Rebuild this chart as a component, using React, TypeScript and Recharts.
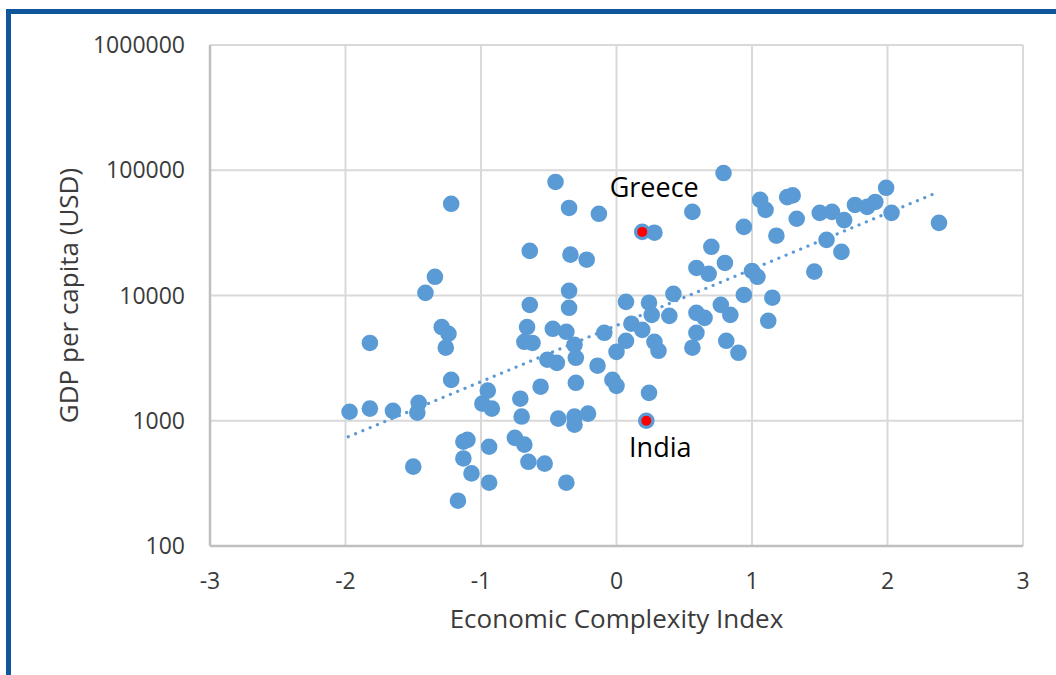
import React from "react"
import { ScatterChart, Scatter, XAxis, YAxis, CartesianGrid } from "recharts"

// Economic Complexity Index per country
const eci = [
    -1.97, -1.82, -1.65, -1.46, -1.47, -1.82, -1.22, -1.34, -1.41, -1.29,
    -1.24, -1.26, -1.22, -1.5, -1.17, -1.13, -1.1, -1.13, -1.07, -0.95,
    -0.99, -0.92, -0.94, -0.94, -0.71, -0.7, -0.75, -0.68, -0.65, -0.53,
    -0.37, -0.43, -0.31, -0.31, -0.21, -0.3, -0.56, -0.51, -0.44, -0.3,
    -0.31, -0.37, -0.47, -0.66, -0.68, -0.62, -0.64, -0.35, -0.35, -0.64,
    -0.34, -0.22, -0.45, -0.35, -0.13, -0.14, -0.09, -0.03, 0.0, 0.0,
    0.07, 0.07, 0.11, 0.19, 0.24, 0.26, 0.28, 0.31, 0.24, 0.22,
    0.19, 0.28, 0.39, 0.42, 0.56, 0.79, 0.59, 0.65, 0.59, 0.56,
    0.77, 0.84, 0.81, 0.9, 0.7, 0.8, 0.59, 0.68, 1.0, 1.04,
    0.94, 1.15, 1.12, 0.94, 1.06, 1.1, 1.18, 1.26, 1.3, 1.33,
    1.46, 1.5, 1.59, 1.55, 1.66, 1.68, 1.76, 1.85, 1.91, 1.99,
    2.03, 2.38,
]

// GDP per capita (USD), same order
const gdp = [
    1180, 1250, 1200, 1390, 1160, 4180, 54000, 14100, 10500, 5600,
    4950, 3830, 2120, 430, 230, 680, 705, 500, 380, 1740,
    1370, 1250, 620, 320, 1500, 1080, 730, 645, 470, 455,
    320, 1040, 1080, 930, 1140, 2010, 1870, 3070, 2900, 3180,
    4040, 5130, 5420, 5600, 4270, 4180, 8400, 10900, 7980, 22700,
    21200, 19300, 80600, 50000, 44900, 2750, 5040, 2120, 1900, 3550,
    8900, 4350, 5950, 5320, 8760, 7000, 4270, 3620, 1670, 1000,
    32200, 31700, 6880, 10300, 46500, 95000, 7270, 6630, 5040, 3830,
    8420, 7000, 4350, 3490, 24500, 18200, 16600, 14900, 15700, 14100,
    10100, 9600, 6280, 35300, 58000, 48300, 30000, 61000, 63000, 41000,
    15500, 45700, 46500, 27800, 22300, 40000, 52800, 51000, 55800, 72400,
    45700, 38000,
]

const highlightNames = ["Greece", "India"]
const highlightEci = [0.19, 0.22]
const highlightGdp = [32200, 1000]

// exponential trendline, ends
const trendEci = [-1.98, 2.36]
const trendGdp = [745, 66000]

const xTicks = [-3, -2, -1, 0, 1, 2, 3]
const yTicks = [100, 1000, 10000, 100000, 1000000]

const BLUE = "#5B9BD5"
const TEXT = "#3b3b3b"

const points = eci.map((x, i) => ({ x, y: gdp[i] }))
const highlights = highlightNames.map((name, i) => ({ name, x: highlightEci[i], y: highlightGdp[i] }))
const trend = trendEci.map((x, i) => ({ x, y: trendGdp[i] }))

// where each country name sits relative to its dot
const labelOffset: Record<string, { dx: number, dy: number }> = {
    Greece: { dx: 12, dy: -35 },
    India: { dx: 14, dy: 36 },
}

function BlueDot(props: any) {
    return <circle cx={props.cx} cy={props.cy} r={8.3} fill={BLUE} />
}

function RedDot(props: any) {
    const off = labelOffset[props.payload?.name] || { dx: 0, dy: -20 }
    return (
        <g>
            <circle cx={props.cx} cy={props.cy} r={5} fill="#FF0000" />
            <text x={props.cx + off.dx} y={props.cy + off.dy} textAnchor="middle" fontSize={27} fill="#000">
                {props.payload?.name}
            </text>
        </g>
    )
}

export default function App() {
    return (
        <div style={{ position: "absolute", left: 0, top: 0, width: 1056, height: 675, background: "#fff", overflow: "hidden", fontFamily: "'Open Sans', sans-serif" }}>
            <div style={{ position: "absolute", left: 6, top: 9, right: -20, bottom: -20, borderTop: "5px solid #0F569B", borderLeft: "5px solid #0F569B" }} />
            <ScatterChart width={1056} height={675} margin={{ top: 45, right: 33, bottom: 0, left: 0 }}>
                <CartesianGrid stroke="#d9d9d9" strokeWidth={2} />
                <XAxis
                    type="number"
                    dataKey="x"
                    domain={[-3, 3]}
                    ticks={xTicks}
                    height={129}
                    tickLine={false}
                    tickSize={0}
                    tickMargin={27}
                    axisLine={{ stroke: "#bfbfbf", strokeWidth: 2.5 }}
                    tick={{ fill: TEXT, fontSize: 23 }}
                    label={{ value: "Economic Complexity Index", position: "insideBottom", offset: 47, style: { fontSize: 26, fill: TEXT } }}
                />
                <YAxis
                    type="number"
                    dataKey="y"
                    scale="log"
                    domain={[100, 1000000]}
                    allowDataOverflow
                    ticks={yTicks}
                    width={210}
                    tickLine={false}
                    tickSize={0}
                    tickMargin={25}
                    axisLine={{ stroke: "#bfbfbf", strokeWidth: 2.5 }}
                    tick={{ fill: TEXT, fontSize: 23 }}
                    label={{ value: "GDP per capita (USD)", angle: -90, position: "insideLeft", offset: 69, style: { fontSize: 26, fill: TEXT, textAnchor: "middle" } }}
                />
                <Scatter data={points} shape={<BlueDot />} isAnimationActive={false} />
                <Scatter
                    data={trend}
                    shape={() => <g />}
                    line={{ stroke: BLUE, strokeWidth: 3.2, strokeDasharray: "0.1 7.8", strokeLinecap: "round" }}
                    isAnimationActive={false}
                />
                <Scatter data={highlights} shape={<RedDot />} isAnimationActive={false} />
            </ScatterChart>
        </div>
    )
}
